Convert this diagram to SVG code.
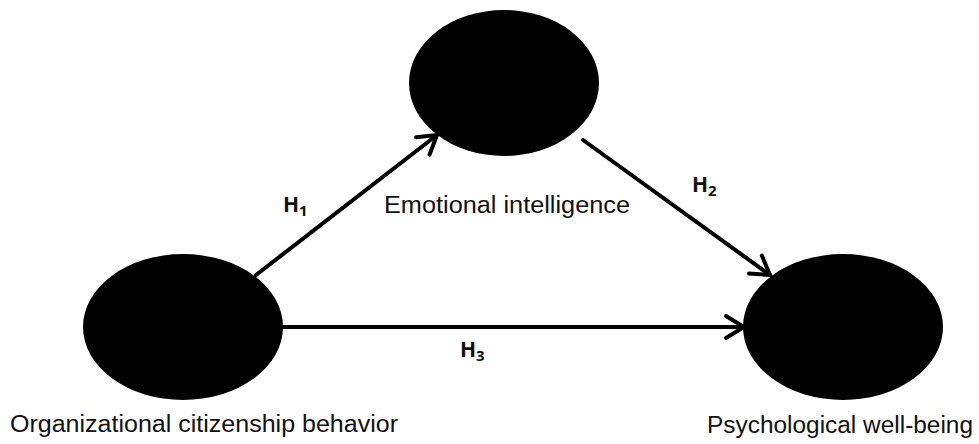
<svg xmlns="http://www.w3.org/2000/svg" width="979" height="444" viewBox="0 0 979 444">
<style>
.node{fill:#000}
.lbl{font-family:"Liberation Sans",Arial,sans-serif;font-size:23px;fill:#111}
.h{font-family:"Open Sans","Liberation Sans",sans-serif;font-weight:bold;font-size:21px;fill:#111}
.sub{font-size:15px}
.edge{stroke:#000;stroke-width:4;fill:none;stroke-linecap:round}
</style>
<defs>
<marker id="arr" markerUnits="userSpaceOnUse" viewBox="-22 -14 26 28" refX="0" refY="0" markerWidth="26" markerHeight="28" orient="auto">
<path d="M -18 -11 L 0 0 L -18 11" fill="none" stroke="#000" stroke-width="4" stroke-linecap="round" stroke-linejoin="miter"/>
</marker>
</defs>
<rect width="979" height="444" fill="#fff"/>
<g id="connectors">
<line class="edge" x1="256" y1="275" x2="437" y2="135" marker-end="url(#arr)"/>
<line class="edge" x1="583" y1="140" x2="770" y2="275" marker-end="url(#arr)"/>
<line class="edge" x1="283" y1="327" x2="744" y2="327" marker-end="url(#arr)"/>
<text class="h" x="283" y="212">H<tspan class="sub" dy="4">1</tspan></text>
<text class="h" x="692" y="192">H<tspan class="sub" dy="4">2</tspan></text>
<text class="h" x="460" y="357">H<tspan class="sub" dy="4">3</tspan></text>
</g>
<g id="emotional-intelligence">
<ellipse class="node" cx="504" cy="83" rx="95" ry="73"/>
<text class="lbl" x="384" y="213" textLength="246" lengthAdjust="spacingAndGlyphs">Emotional intelligence</text>
</g>
<g id="organizational-citizenship-behavior">
<ellipse class="node" cx="183" cy="327" rx="100" ry="73"/>
<text class="lbl" x="10" y="432" textLength="388" lengthAdjust="spacingAndGlyphs">Organizational citizenship behavior</text>
</g>
<g id="psychological-well-being">
<ellipse class="node" cx="843" cy="327" rx="100" ry="73"/>
<text class="lbl" x="707" y="433" textLength="266" lengthAdjust="spacingAndGlyphs">Psychological well-being</text>
</g>
</svg>
